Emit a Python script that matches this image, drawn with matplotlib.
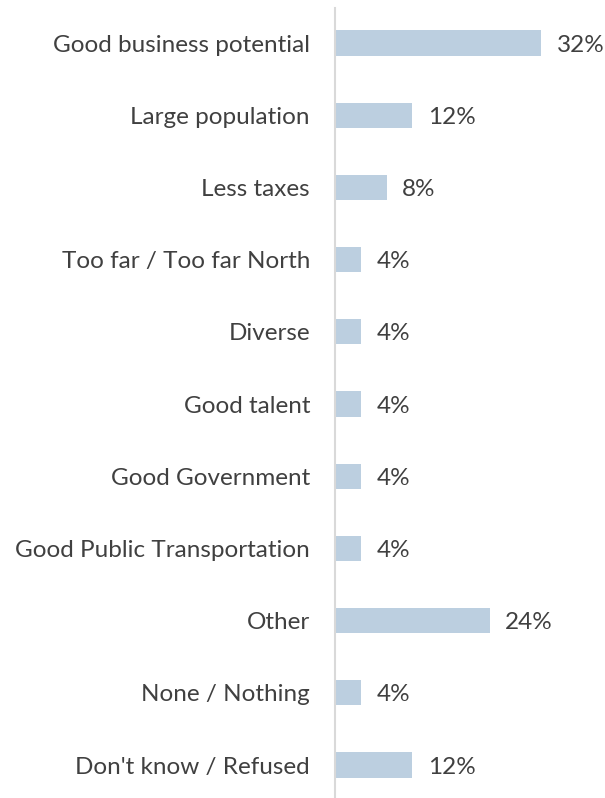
import numpy as np
import matplotlib.pyplot as plt

categories = ["Good business potential", "Large population", "Less taxes",
              "Too far / Too far North", "Diverse", "Good talent",
              "Good Government", "Good Public Transportation", "Other",
              "None / Nothing", "Don't know / Refused"]
values = [32, 12, 8, 4, 4, 4, 4, 4, 24, 4, 12]

bar_color = "#BCCFE0"
text_color = "#404040"
fs = 17.5

fig = plt.figure(figsize=(6.05, 7.98), dpi=100)
ax = fig.add_axes([335/605, 0, 270/605, 790/798])

y = np.arange(len(categories))
ax.barh(y, values, height=0.35, color=bar_color)
for yi, v in zip(y, values):
    ax.text(v + 2.4, yi + 0.03, f"{v}%", va="center", ha="left",
            fontsize=fs, color=text_color, family="Lato")

ax.set_ylim(10.457, -0.485)
ax.set_xlim(0, 41.9)
ax.set_yticks(y)
ax.set_yticklabels(categories, fontsize=fs, color=text_color, family="Lato")
ax.tick_params(axis="y", length=0, pad=18)
ax.set_xticks([])
for s in ["top", "right", "bottom"]:
    ax.spines[s].set_visible(False)
ax.spines["left"].set_color("#D9D9D9")
ax.spines["left"].set_linewidth(1.5)

fig.savefig("out.png", dpi=100)
